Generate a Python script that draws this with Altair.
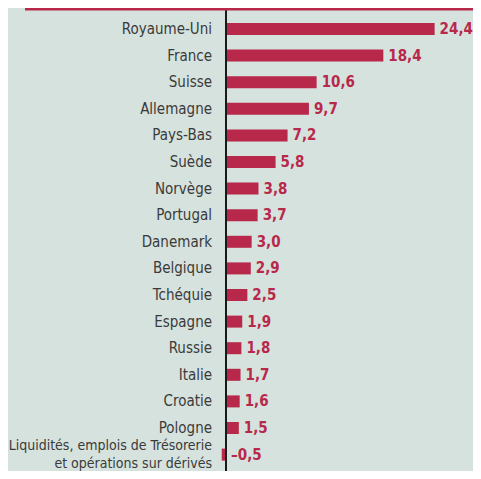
import altair as alt
import pandas as pd

categories = ["Royaume-Uni", "France", "Suisse", "Allemagne", "Pays-Bas", "Suède",
              "Norvège", "Portugal", "Danemark", "Belgique", "Tchéquie", "Espagne",
              "Russie", "Italie", "Croatie", "Pologne",
              "Liquidités, emplois de Trésorerie\net opérations sur dérivés"]
values = [24.4, 18.4, 10.6, 9.7, 7.2, 5.8, 3.8, 3.7, 3.0, 2.9, 2.5, 1.9, 1.8, 1.7, 1.6, 1.5, -0.5]
value_labels = ["24,4", "18,4", "10,6", "9,7", "7,2", "5,8", "3,8", "3,7", "3,0", "2,9",
                "2,5", "1,9", "1,8", "1,7", "1,6", "1,5", "–0,5"]

RED = "#b8284b"
BG = "#d6e2dd"
TXT = "#3a3a3a"
FONT = "Liberation Sans Narrow, DejaVu Sans Condensed, Roboto, sans-serif"

df = pd.DataFrame({
    "cat": categories,
    "v": values,
    "vl": value_labels,
    "pos": [max(v, 0) for v in values],
})

W = 251.275
H = 452.2
LH = 18
xscale = alt.Scale(domain=[-0.5, 28.889], nice=False, zero=False)
yenc = alt.Y("cat:N", sort=categories, axis=None,
             scale=alt.Scale(paddingInner=0, paddingOuter=0))

base = alt.Chart(df).encode(y=yenc)

bars = base.mark_bar(height=12, color=RED).encode(
    x=alt.X("v:Q", scale=xscale, axis=None)
)

vals = base.mark_text(align="left", baseline="middle", dx=5, font=FONT,
                      fontWeight="bold", fontSize=15, color=RED).encode(
    x=alt.X("pos:Q", scale=xscale, axis=None), text="vl:N"
)

is_multi = "indexof(datum.cat, '\\n') >= 0"

cats_single = base.transform_filter("!(" + is_multi + ")").mark_text(
    align="right", baseline="middle", font=FONT, fontSize=15, color=TXT
).encode(x=alt.value(-9.7), text="cat:N")

cats_multi = base.transform_filter(is_multi).transform_calculate(
    lines="split(datum.cat, '\\n')"
).mark_text(
    align="right", baseline="middle", lineHeight=LH, dy=-LH / 2,
    font=FONT, fontSize=14, color=TXT
).encode(x=alt.value(-9.7), text="lines:N")

axis_line = alt.Chart(pd.DataFrame({"x": [0]})).mark_rule(
    color="#1a1a1a", strokeWidth=2
).encode(x=alt.X("x:Q", scale=xscale, axis=None), y=alt.value(-6.7), y2=alt.value(H + 4))

top_line = alt.Chart(pd.DataFrame({"x": [0]})).mark_rule(
    color=RED, strokeWidth=2.5
).encode(x=alt.value(-196.7), x2=alt.value(W), y=alt.value(-6.5))

chart = alt.layer(bars, vals, cats_single, cats_multi, axis_line, top_line).properties(
    width=W, height=H,
    padding={"left": 213.725, "top": 7.7, "right": 0, "bottom": 3.1},
    autosize="none",
    background=BG,
).configure_view(strokeWidth=0)

chart.save("out.html", embed_options={"renderer": "svg", "actions": False})
